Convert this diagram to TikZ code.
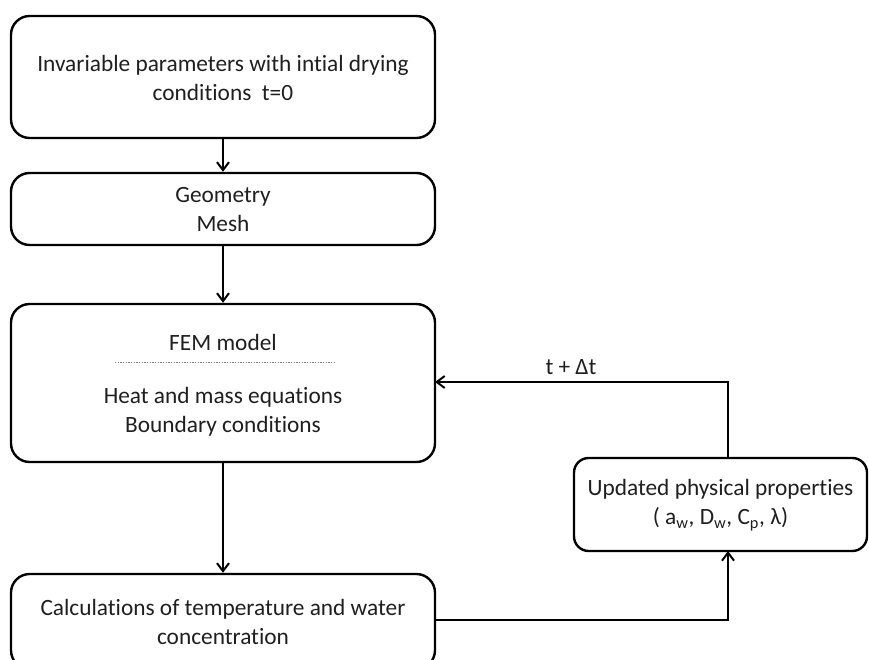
\documentclass[tikz,border=0pt]{standalone}
\usepackage{fontspec}
\setmainfont[Ligatures=NoCommon]{Carlito}
\usetikzlibrary{arrows.meta}
\begin{document}
\begin{tikzpicture}[x=0.75pt,y=-0.75pt,
  box/.style={draw=black,line width=1.8pt,rounded corners=14pt,inner sep=0pt},
  txt/.style={align=center,font=\fontsize{17.5}{21.75}\selectfont,text=black!88},
  conn/.style={line width=1.7pt,-{Straight Barb[length=6pt,width=9pt,line width=1.5pt]}},
  plain/.style={line width=1.7pt}]
\useasboundingbox (0,0) rectangle (869,660);
\clip (0,0) rectangle (869,660);
\node[box,minimum width=318pt,minimum height=91.5pt] (b1) at (223,77) {};
\node[txt] (t1) at (223,78) {Invariable parameters with intial drying\\conditions\ \ t=0};
\node[box,minimum width=318pt,minimum height=54pt] (b2) at (223,209) {};
\node[txt] (t2) at (223,210) {Geometry\\Mesh};
\node[box,minimum width=318pt,minimum height=118.5pt] (b3) at (223,383) {};
\node[txt] (t3a) at (223,342) {FEM model};
\coordinate (dl) at (115,362);
\coordinate (dr) at (335,362);
\draw[gray,line width=0.5pt,dash pattern=on 1pt off 1pt] (dl) -- (dr);
\node[txt] (t3b) at (223,412) {Heat and mass equations\\Boundary conditions};
\node[box,minimum width=318pt,minimum height=71.25pt] (b4) at (223,621.5) {};
\node[txt] (t4) at (223,622) {Calculations of temperature and water\\concentration};
\node[box,minimum width=219.75pt,minimum height=69.75pt,rounded corners=11pt] (b5) at (720.5,504.5) {};
\node[txt] (t5) at (720.5,505) {Updated physical properties\\( a\textsubscript{w}, D\textsubscript{w}, C\textsubscript{p}, λ)};
\draw[conn] (b1.south) -- (b2.north);
\draw[conn] (b2.south) -- (b3.north);
\draw[conn] (b3.south) -- (b4.north);
\coordinate (c1) at (728,620);
\coordinate (c2) at (728,382);
\coordinate (b5bot) at (728,551);
\coordinate (b5top) at (728,458);
\coordinate (b3in) at (435,382);
\coordinate (b4out) at (435,620);
\draw[conn] (b4out) -- (c1) -- (b5bot);
\draw[conn] (b5top) -- (c2) -- (b3in);
\node[txt,anchor=south] (lbl) at (571,379) {t + Δt};
\end{tikzpicture}
\end{document}
